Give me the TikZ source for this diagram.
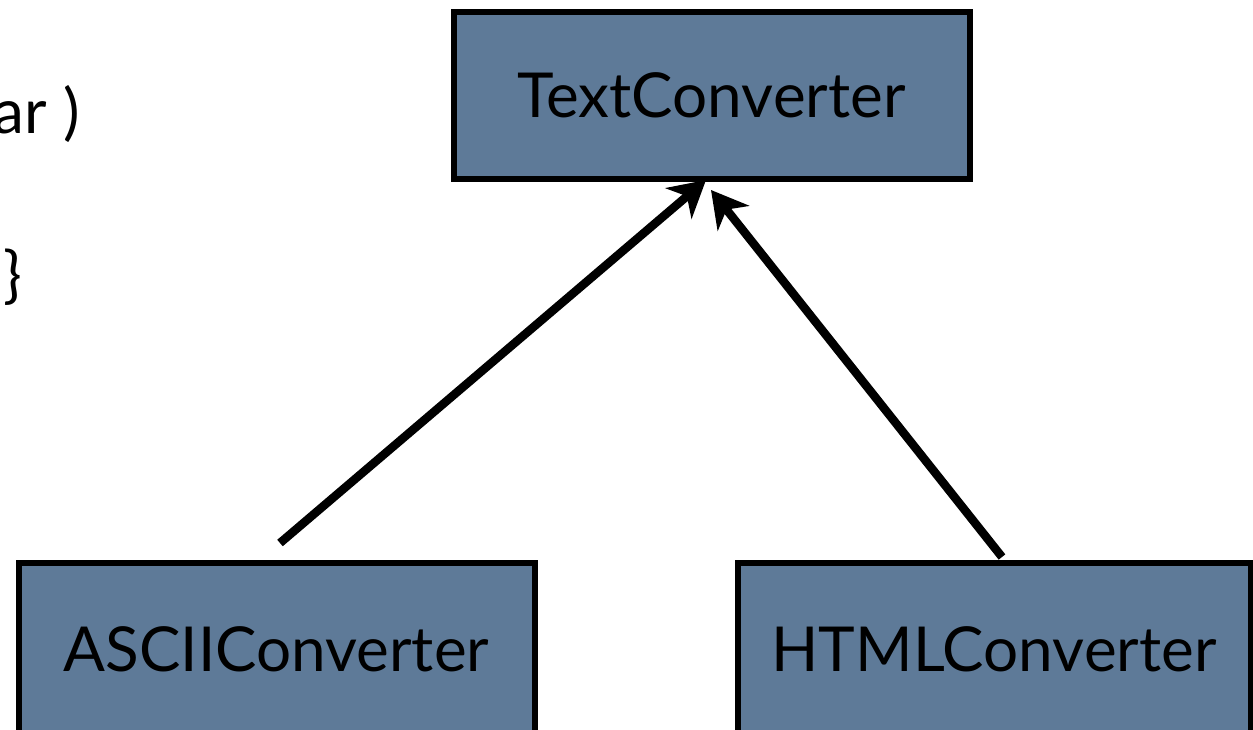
\documentclass[tikz,border=0pt]{standalone}
\usepackage{fontspec}
\setmainfont{Lato}
\usetikzlibrary{arrows.meta}
\definecolor{boxfill}{RGB}{94,122,152}
\begin{document}
\begin{tikzpicture}[x=1pt,y=-1pt,
  box/.style={draw=black,line width=6pt,fill=boxfill,inner sep=0pt,font=\fontsize{62}{74}\selectfont},
  cut/.style={inner sep=0pt,font=\fontsize{62}{74}\selectfont},
  arr/.style={line width=8.5pt,-{Stealth[length=36pt,width=40pt,inset=11pt]}}]
\useasboundingbox (0,0) rectangle (1253,729);
\node[box,minimum width=516pt,minimum height=167pt] (tc) at (711.5,95) {TextConverter};
\node[box,minimum width=516pt,minimum height=172pt] (ascii) at (276.5,649) {ASCIIConverter};
\node[box,minimum width=513pt,minimum height=172pt] (html) at (994,649) {HTMLConverter};
\node[cut,anchor=base east] (t1) at (80,133) {ar )};
\node[cut,anchor=base east] (t2) at (22,296) {\}};
\coordinate (a1) at (280,543);
\coordinate (a2) at (706,180);
\coordinate (b1) at (1002,557);
\coordinate (b2) at (711,190);
\draw[arr] (a1) -- (a2);
\draw[arr] (b1) -- (b2);
\end{tikzpicture}
\end{document}
